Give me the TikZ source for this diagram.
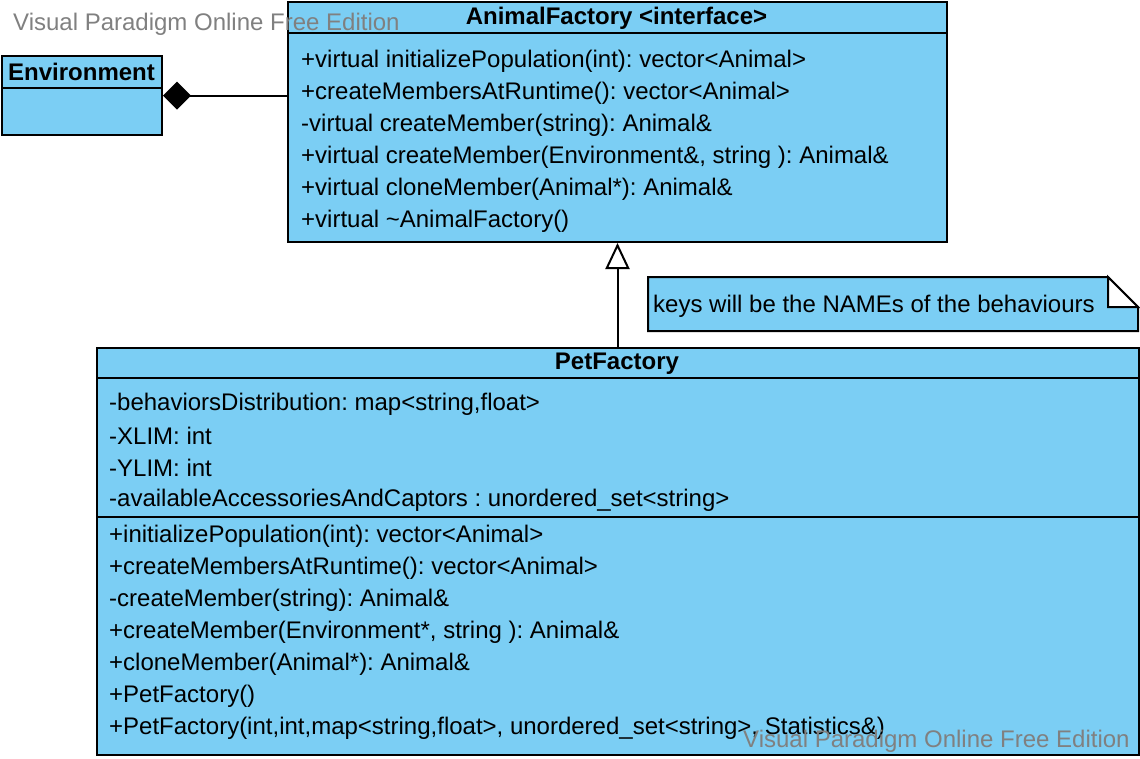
\documentclass[tikz,border=0pt]{standalone}
\usepackage{fontspec}
\setmainfont{Liberation Sans}
\usetikzlibrary{arrows.meta}
\definecolor{umlblue}{HTML}{7BCEF4}
\definecolor{wmgray}{HTML}{808080}
\frenchspacing
\tikzset{
  box/.style={draw=black, line width=2pt, fill=umlblue, anchor=north west, inner sep=0pt},
  divider/.style={line width=2pt},
  member/.style={anchor=west, inner sep=0pt, yshift=-2pt, font=\fontsize{24}{28}\selectfont},
  title/.style={inner sep=0pt, yshift=-2pt, font=\fontsize{24}{28}\selectfont\bfseries},
  watermark/.style={anchor=west, inner sep=0pt, yshift=-2pt, text=wmgray, font=\fontsize{24}{28}\selectfont},
  conn/.style={line width=2pt},
}
\begin{document}
\begin{tikzpicture}[x=1pt,y=-1pt]
\useasboundingbox (0,0) rectangle (1140,758);
% AnimalFactory
\node[box, minimum width=659pt, minimum height=240pt] (af) at (287,1) {};
\draw[divider] (287,33) -- (946,33);
\node[title] (aft) at (616.5,16) {AnimalFactory <interface>};
\node[member] (af1) at (301,59) {+virtual initializePopulation(int): vector<Animal>};
\node[member] (af2) at (301,91) {+createMembersAtRuntime(): vector<Animal>};
\node[member] (af3) at (301,123) {-virtual createMember(string): Animal\&};
\node[member] (af4) at (301,155) {+virtual createMember(Environment\&, string ): Animal\&};
\node[member] (af5) at (301,187) {+virtual cloneMember(Animal*): Animal\&};
\node[member] (af6) at (301,219) {+virtual \textasciitilde AnimalFactory()};
% Environment
\node[box, minimum width=160pt, minimum height=79pt] (env) at (1,55) {};
\draw[divider] (1,88) -- (161,88);
\node[title, anchor=west] (envt) at (8,70) {Environment};
% Note
\node[inner sep=0pt, minimum width=490pt, minimum height=54pt, anchor=north west] (note) at (648,277) {};
\draw[line width=2pt, fill=umlblue] (648,277) -- (1108,277) -- (1138,307) -- (1138,331) -- (648,331) -- cycle;
\draw[line width=2pt, fill=white] (1108,277) -- (1138,307) -- (1108,307) -- cycle;
\node[member] (notet) at (653,304) {keys will be the NAMEs of the behaviours};
% PetFactory
\node[box, minimum width=1042pt, minimum height=407pt] (pf) at (96,347) {};
\draw[divider] (96,378) -- (1138,378);
\draw[divider] (96,517) -- (1138,517);
\node[title] (pft) at (617,362) {PetFactory};
\node[member] (pa1) at (109,402) {-behaviorsDistribution: map<string,float>};
\node[member] (pa2) at (109,434) {-XLIM: int};
\node[member] (pa3) at (109,466) {-YLIM: int};
\node[member] (pa4) at (109,498) {-availableAccessoriesAndCaptors : unordered\_set<string>};
\node[member] (pm1) at (109,534) {+initializePopulation(int): vector<Animal>};
\node[member] (pm2) at (109,566) {+createMembersAtRuntime(): vector<Animal>};
\node[member] (pm3) at (109,598) {-createMember(string): Animal\&};
\node[member] (pm4) at (109,630) {+createMember(Environment*, string ): Animal\&};
\node[member] (pm5) at (109,662) {+cloneMember(Animal*): Animal\&};
\node[member] (pm6) at (109,694) {+PetFactory()};
\node[member] (pm7) at (109,726) {+PetFactory(int,int,map<string,float>, unordered\_set<string>, Statistics\&)};
% connectors
\draw[conn, -{Diamond[length=28pt,width=28pt,fill=black]}] (af.west |- env.east) -- (env.east);
\draw[conn, -{Triangle[open,length=26pt,width=24pt,fill=white]}] (af.south |- pf.north) -- (af.south);
% watermarks
\node[watermark] (wm1) at (13,22) {Visual Paradigm Online Free Edition};
\node[watermark] (wm2) at (743,739) {Visual Paradigm Online Free Edition};
\end{tikzpicture}
\end{document}
